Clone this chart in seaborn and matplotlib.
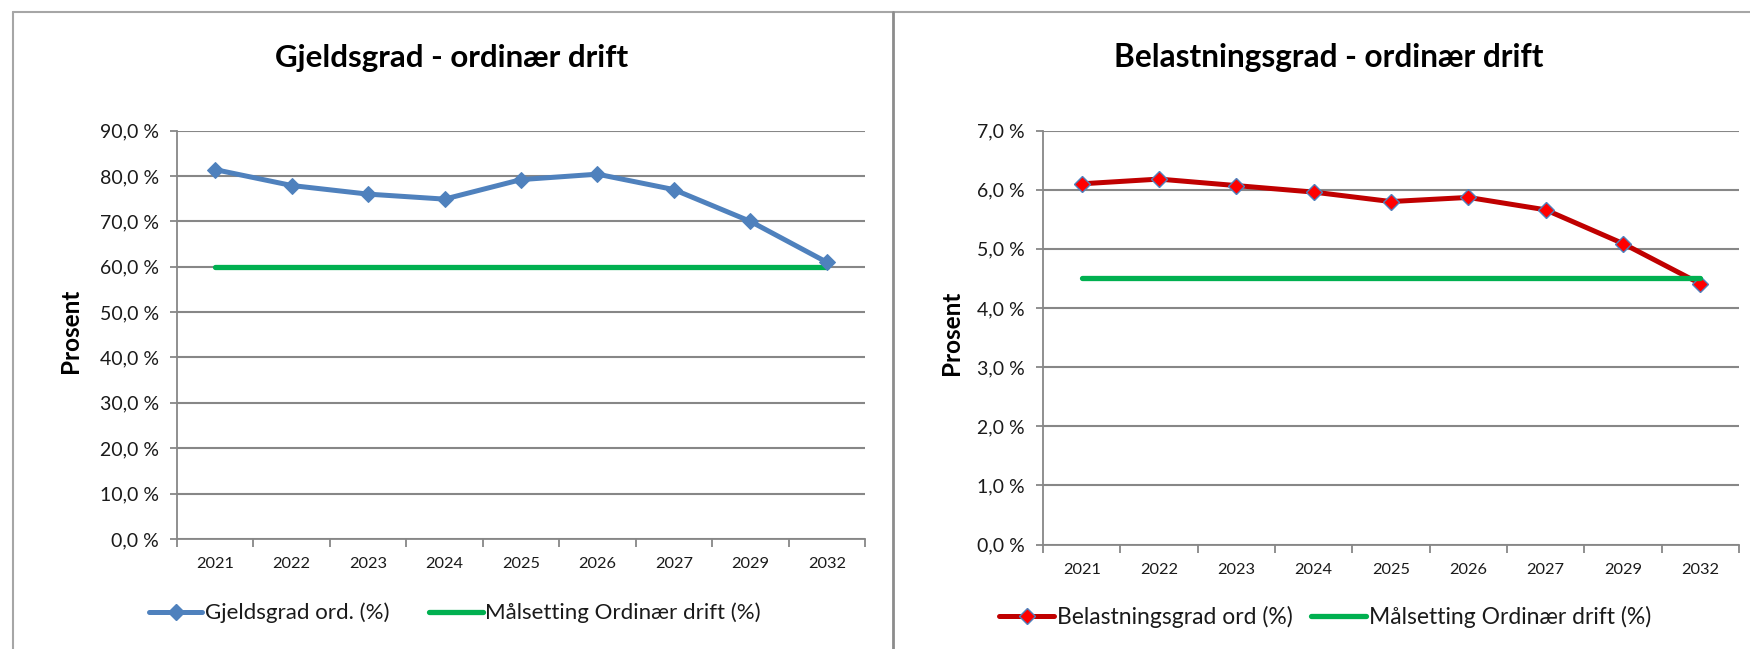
import matplotlib
matplotlib.use("Agg")
import matplotlib.pyplot as plt
import matplotlib.ticker as mticker
from matplotlib.lines import Line2D
import pandas as pd
import seaborn as sns

years = ["2021", "2022", "2023", "2024", "2025", "2026", "2027", "2029", "2032"]
gjeldsgrad = [81.4, 77.9, 76.0, 74.9, 79.2, 80.4, 77.0, 70.0, 61.0]
gjeld_maal = [60.0] * len(years)
belastning = [6.10, 6.18, 6.07, 5.96, 5.80, 5.87, 5.66, 5.09, 4.41]
belast_maal = [4.5] * len(years)

left_title = "Gjeldsgrad - ordinær drift"
right_title = "Belastningsgrad - ordinær drift"
left_label = "Gjeldsgrad ord. (%)"
right_label = "Belastningsgrad ord (%)"
target_label = "Målsetting Ordinær drift (%)"

sns.set_style("white")
plt.rcParams["font.family"] = ["Lato", "DejaVu Sans"]

W, H = 1750, 649
fig = plt.figure(figsize=(W / 100, H / 100), dpi=100)


def fx(px):
    return px / W


def fy(py):
    return 1 - py / H


grid_col = "#878787"
txt_col = "#1a1a1a"


def style_axis(ax, ymax, step):
    ax.set_xlim(-0.5, len(years) - 0.5)
    ax.set_ylim(0, ymax)
    ax.yaxis.set_major_locator(mticker.MultipleLocator(step))
    ax.yaxis.set_major_formatter(
        mticker.FuncFormatter(lambda v, p: f"{v:.1f} %".replace(".", ",")))
    ax.set_xticks(range(len(years)))
    ax.set_xticklabels(years)
    ax.set_xticks([i - 0.5 for i in range(len(years) + 1)], minor=True)
    ax.tick_params(axis="x", which="major", length=0, pad=13, labelsize=11.8, labelcolor=txt_col)
    ax.tick_params(axis="x", which="minor", length=6, width=1.3, color=grid_col, direction="out", bottom=True)
    ax.tick_params(axis="y", length=5, width=1.3, color=grid_col, direction="out", left=True,
                   pad=8, labelsize=14, labelcolor=txt_col)
    ax.yaxis.grid(True, color=grid_col, lw=1.5)
    ax.set_axisbelow(True)
    for s in ["top", "right"]:
        ax.spines[s].set_visible(False)
    for s in ["left", "bottom"]:
        ax.spines[s].set_color(grid_col)
        ax.spines[s].set_linewidth(1.3)
    ax.set_xlabel("")
    ax.set_ylabel("")


# ---- left chart
axl = fig.add_axes([fx(177), fy(539), fx(865 - 177), (539 - 130.6) / H])
dfl = pd.DataFrame({"year": years, "value": gjeldsgrad, "target": gjeld_maal})
sns.lineplot(data=dfl, x="year", y="target", ax=axl, color="#00B050", lw=3.8, zorder=2.5, sort=False)
sns.lineplot(data=dfl, x="year", y="value", ax=axl, color="#4F81BD", lw=3.6, marker="D",
             markersize=8.5, markeredgecolor="#4F81BD", zorder=3, sort=False)
style_axis(axl, 90, 10)

# ---- right chart
axr = fig.add_axes([fx(1043), fy(544.5), fx(1739 - 1043), (544.5 - 130.6) / H])
dfr = pd.DataFrame({"year": years, "value": belastning, "target": belast_maal})
sns.lineplot(data=dfr, x="year", y="value", ax=axr, color="#C00000", lw=3.6, marker="D",
             markersize=8.5, markerfacecolor="#FF0000", markeredgecolor="#4F81BD",
             markeredgewidth=1.0, zorder=3, sort=False)
sns.lineplot(data=dfr, x="year", y="target", ax=axr, color="#00B050", lw=3.8, zorder=3.5, sort=False)
style_axis(axr, 7, 1)

# titles and axis labels
fig.text(fx(452), fy(58), left_title, ha="center", va="center", fontsize=22.6, fontweight="bold", color="black")
fig.text(fx(1329), fy(58), right_title, ha="center", va="center", fontsize=22.8, fontweight="bold", color="black")
fig.text(fx(70), fy(331), "Prosent", rotation=90, ha="center", va="center", fontsize=17.5,
         fontweight="bold", color="black")
fig.text(fx(951), fy(333), "Prosent", rotation=90, ha="center", va="center", fontsize=17.5,
         fontweight="bold", color="black")

# legends
hl = [Line2D([], [], color="#4F81BD", lw=3.6, marker="D", markersize=8.5, markeredgecolor="#4F81BD"),
      Line2D([], [], color="#00B050", lw=3.8)]
axl.legend(hl, [left_label, target_label], loc="center", bbox_to_anchor=(fx(455), fy(613)),
           bbox_transform=fig.transFigure, ncol=2, frameon=False, fontsize=16, handlelength=2.4,
           handletextpad=0.12, columnspacing=1.8, labelcolor=txt_col)
hr = [Line2D([], [], color="#C00000", lw=3.6, marker="D", markersize=8.5, markerfacecolor="#FF0000",
             markeredgecolor="#4F81BD", markeredgewidth=1.0),
      Line2D([], [], color="#00B050", lw=3.8)]
axr.legend(hr, [right_label, target_label], loc="center", bbox_to_anchor=(fx(1325), fy(617)),
           bbox_transform=fig.transFigure, ncol=2, frameon=False, fontsize=16.5, handlelength=2.4,
           handletextpad=0.12, columnspacing=0.8, labelcolor=txt_col)

# chart frames (screenshot borders)
frame_col = "#A6A6A6"
fig.add_artist(Line2D([fx(13), 1], [fy(12), fy(12)], color=frame_col, lw=1.5))
fig.add_artist(Line2D([fx(13), fx(13)], [fy(12), 0], color=frame_col, lw=1.5))
fig.add_artist(Line2D([fx(893), fx(893)], [fy(12), 0], color="#8C8C8C", lw=2.0))

fig.savefig("out.png", dpi=100)
